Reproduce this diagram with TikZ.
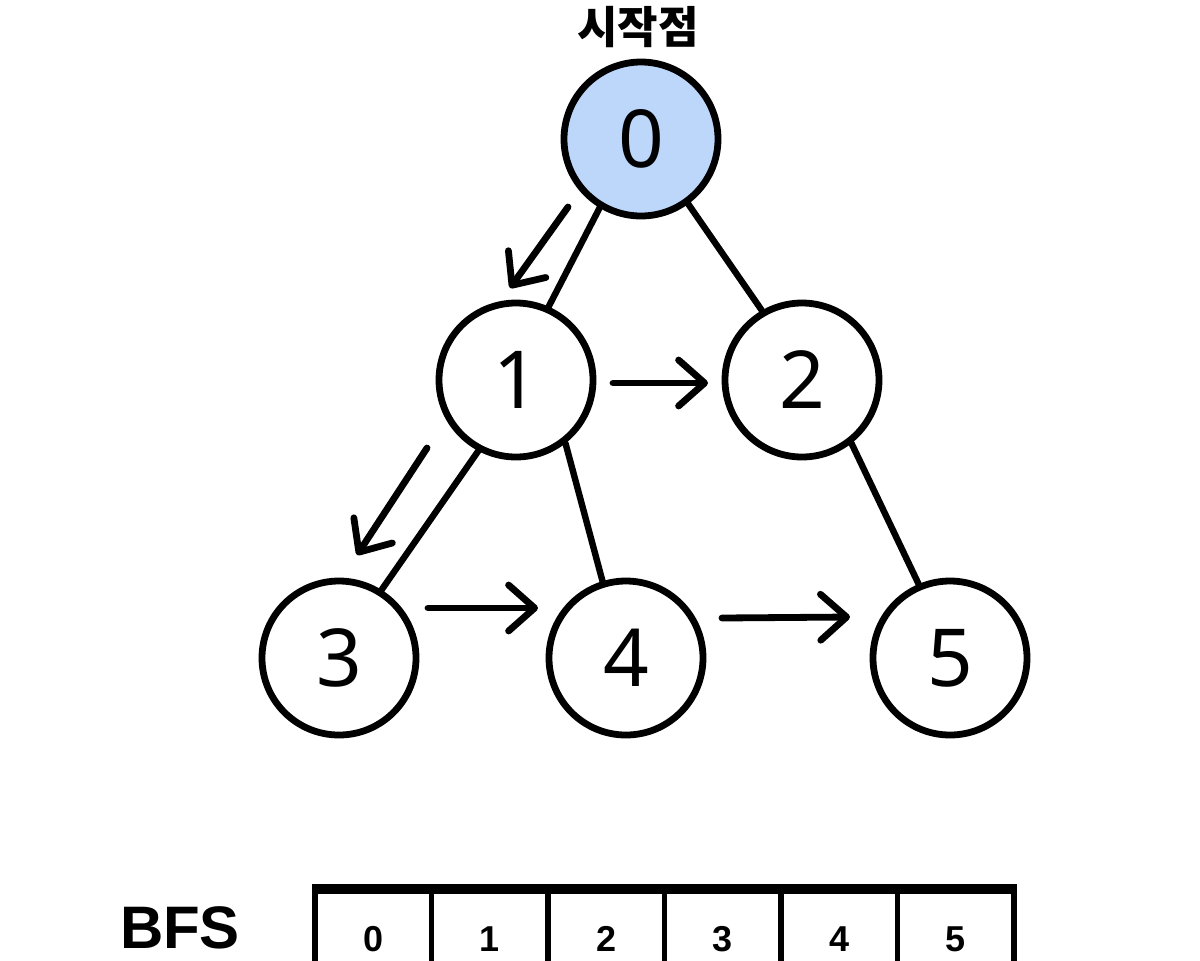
\documentclass[tikz,border=0pt]{standalone}
\usepackage{fontspec}
\setmainfont{Noto Sans}
\newfontfamily\krfont{Noto Sans CJK KR}
\newfontfamily\arialfont{Liberation Sans}
\usetikzlibrary{arrows.meta}
\definecolor{startblue}{HTML}{BDD7FB}
\tikzset{
  vertex/.style={circle, draw=black, line width=3.4pt, minimum size=77pt, inner sep=0pt,
    font=\fontsize{40pt}{40pt}\selectfont},
  edge/.style={line width=3.2pt, line cap=round},
  visit/.style={line width=3.4pt, line cap=round, -{Straight Barb[length=13pt,width=23pt,round]}},
  cell/.style={rectangle, draw=black, line width=2.6pt, minimum width=58.25pt, minimum height=50pt,
    inner sep=0pt, font=\arialfont\bfseries\fontsize{18pt}{18pt}\selectfont},
}
\begin{document}
\begin{tikzpicture}[x=0.5pt,y=-0.5pt]
\useasboundingbox (0,0) rectangle (1200,960);
\clip (0,0) rectangle (1200,960);
% nodes
\node[vertex, fill=startblue] (n0) at (641,139) {0};
\node[vertex] (n1) at (516,380) {\raisebox{-3pt}{1}};
\node[vertex] (n2) at (802,380) {2};
\node[vertex] (n3) at (339,658) {3};
\node[vertex] (n4) at (626,658) {4};
\node[vertex] (n5) at (950,658) {5};
\node[font=\krfont\bfseries\fontsize{22pt}{22pt}\selectfont] (lab) at (638,27) {시작점};
% edges
\draw[edge] (n0.239) -- (n1.66);
\draw[edge] (n0.-54) -- (n2.120);
\draw[edge] (n1.242) -- (n3.58);
\draw[edge] (n1.-52) -- (n4.107);
\draw[edge] (n2.-52) -- (n5.113);
% traversal arrows
\coordinate (a01s) at (568,207); \coordinate (a01e) at (510,288);
\coordinate (a12s) at (613,383); \coordinate (a12e) at (708,383);
\coordinate (a13s) at (427,448); \coordinate (a13e) at (357,555);
\coordinate (a34s) at (428,608); \coordinate (a34e) at (538,608);
\coordinate (a45s) at (722,618); \coordinate (a45e) at (850,617);
\draw[visit] (a01s) -- (a01e);
\draw[visit] (a12s) -- (a12e);
\draw[visit] (a13s) -- (a13e);
\draw[visit] (a34s) -- (a34e);
\draw[visit] (a45s) -- (a45e);
% BFS order table
\node[font=\arialfont\bfseries\fontsize{30pt}{30pt}\selectfont] (bfs) at (180,928) {BFS};
\foreach \i/\v in {0/0,1/1,2/2,3/3,4/4,5/5}{
  \node[cell] (c\i) at ({373.25+116.5*\i},941) {\raisebox{2pt}{\v}};
}
\draw[line width=4pt] (c0.north west) -- (c5.north east);
\end{tikzpicture}
\end{document}
